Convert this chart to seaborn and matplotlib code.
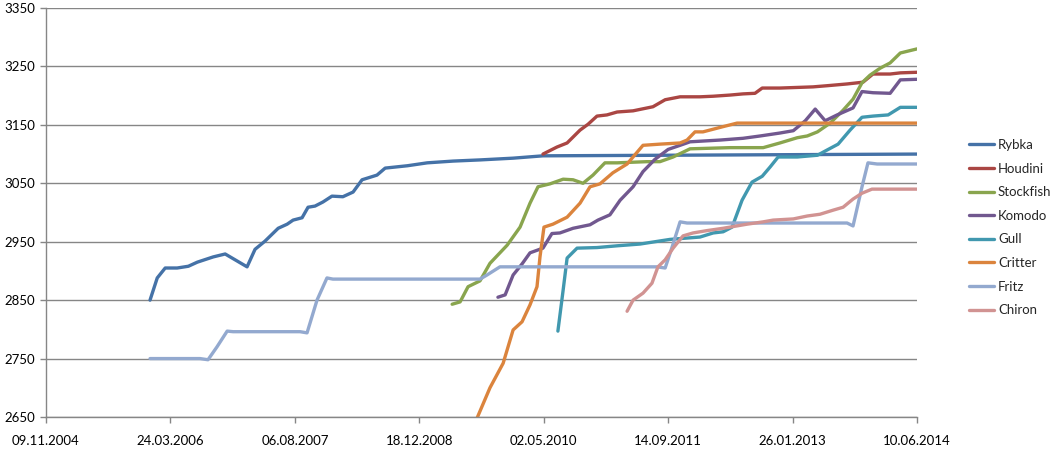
import pandas as pd
import matplotlib
matplotlib.use("Agg")
import matplotlib.pyplot as plt
import matplotlib.dates as mdates
import seaborn as sns

engines = ['Rybka', 'Houdini', 'Stockfish', 'Komodo', 'Gull', 'Critter', 'Fritz', 'Chiron']
colors = ['#4572A7', '#AA4643', '#89A54E', '#71588F', '#4198AF', '#DB843D', '#93A9CF', '#D19392']

rybka_dates = ['2006-01-01', '2006-01-30', '2006-03-03', '2006-04-20', '2006-06-04', '2006-07-10',
               '2006-09-12', '2006-10-30', '2007-01-26', '2007-02-27', '2007-04-08', '2007-05-31',
               '2007-07-06', '2007-07-30', '2007-09-04', '2007-09-28', '2007-10-26', '2007-11-27',
               '2008-01-02', '2008-02-15', '2008-03-27', '2008-05-02', '2008-07-01', '2008-08-03',
               '2008-10-31', '2009-01-19', '2009-05-03', '2009-08-19', '2009-12-30', '2010-04-29',
               '2014-06-10']
rybka_elo = [2850, 2888, 2905, 2905, 2908, 2915, 2924, 2929, 2907, 2937, 2951, 2973,
             2980, 2987, 2991, 3009, 3011, 3018, 3028, 3027, 3035, 3056, 3064, 3076,
             3080, 3085, 3088, 3090, 3093, 3097, 3100]

houdini_dates = ['2010-04-29', '2010-06-24', '2010-08-04', '2010-09-25', '2010-10-27', '2010-12-02',
                 '2011-01-11', '2011-02-21', '2011-04-26', '2011-07-15', '2011-09-02', '2011-11-01',
                 '2012-01-20', '2012-03-13', '2012-05-20', '2012-07-11', '2012-08-28', '2012-09-26',
                 '2012-12-06', '2013-04-18', '2013-06-14', '2013-09-02', '2013-11-05', '2013-12-15',
                 '2014-02-22', '2014-04-04', '2014-06-10']
houdini_elo = [3100, 3112, 3119, 3141, 3151, 3165, 3167, 3172, 3174, 3181, 3193, 3198,
               3198, 3199, 3201, 3203, 3204, 3213, 3213, 3215, 3217, 3220, 3223, 3237,
               3237, 3239, 3240]

stockfish_dates = ['2009-04-29', '2009-05-31', '2009-07-02', '2009-08-19', '2009-09-28', '2009-12-06',
                   '2010-01-27', '2010-03-08', '2010-04-09', '2010-05-27', '2010-07-19', '2010-08-28',
                   '2010-10-07', '2010-11-16', '2011-01-03', '2011-02-21', '2011-06-21', '2011-08-12',
                   '2011-10-04', '2011-12-11', '2012-05-20', '2012-09-30', '2012-12-06', '2013-02-14',
                   '2013-03-26', '2013-05-06', '2013-06-26', '2013-08-17', '2013-09-26', '2013-11-01',
                   '2013-12-03', '2014-01-13', '2014-02-22', '2014-04-04', '2014-06-10']
stockfish_elo = [2843, 2847, 2873, 2883, 2913, 2944, 2975, 3016, 3044, 3049, 3057, 3056,
                 3050, 3064, 3085, 3085, 3087, 3087, 3095, 3109, 3111, 3111, 3119, 3128,
                 3131, 3138, 3153, 3175, 3194, 3222, 3235, 3247, 3256, 3273, 3280]

komodo_dates = ['2009-10-30', '2009-11-28', '2009-12-30', '2010-02-04', '2010-03-08', '2010-04-29',
                '2010-06-04', '2010-07-06', '2010-08-28', '2010-11-04', '2010-12-06', '2011-01-23',
                '2011-03-05', '2011-04-26', '2011-06-05', '2011-07-23', '2011-09-14', '2011-11-01',
                '2011-12-11', '2012-04-10', '2012-07-11', '2012-09-18', '2012-12-06', '2013-01-29',
                '2013-03-18', '2013-04-27', '2013-06-06', '2013-07-24', '2013-09-26', '2013-11-01',
                '2013-12-15', '2014-02-22', '2014-04-04', '2014-06-10']
komodo_elo = [2855, 2859, 2893, 2912, 2931, 2939, 2964, 2965, 2973, 2979, 2987, 2996,
              3021, 3044, 3070, 3091, 3108, 3115, 3121, 3124, 3127, 3131, 3136, 3140,
              3157, 3177, 3157, 3167, 3179, 3207, 3205, 3204, 3227, 3228]

gull_dates = ['2010-06-28', '2010-07-19', '2010-08-04', '2010-09-13', '2010-12-02', '2011-02-21',
              '2011-05-24', '2011-09-22', '2012-01-20', '2012-03-13', '2012-04-22', '2012-05-28',
              '2012-07-07', '2012-08-16', '2012-09-26', '2012-10-28', '2012-11-29', '2013-02-14',
              '2013-05-06', '2013-06-14', '2013-07-28', '2013-09-14', '2013-11-01', '2013-12-15',
              '2014-02-14', '2014-04-04', '2014-06-10']
gull_elo = [2797, 2867, 2922, 2939, 2940, 2943, 2946, 2954, 2958, 2965, 2967, 2975,
            3021, 3052, 3062, 3078, 3095, 3095, 3098, 3107, 3117, 3141, 3163, 3165,
            3167, 3180, 3180]

critter_dates = ['2009-07-30', '2009-09-28', '2009-11-20', '2009-12-30', '2010-02-04', '2010-03-08',
                 '2010-04-05', '2010-04-17', '2010-05-03', '2010-06-08', '2010-08-04', '2010-09-25',
                 '2010-11-04', '2010-12-14', '2011-02-04', '2011-04-02', '2011-06-05', '2011-08-12',
                 '2011-11-01', '2011-11-29', '2011-12-31', '2012-02-01', '2012-04-22', '2012-06-17',
                 '2014-06-10']
critter_elo = [2640, 2700, 2742, 2799, 2813, 2842, 2873, 2924, 2975, 2980, 2992, 3016,
               3044, 3049, 3068, 3083, 3115, 3117, 3119, 3124, 3138, 3138, 3147, 3153,
               3153]

fritz_dates = ['2006-01-01', '2006-07-21', '2006-08-22', '2006-09-27', '2006-11-07', '2006-12-01',
               '2007-08-27', '2007-09-24', '2007-11-03', '2007-12-13', '2008-01-06', '2009-08-19',
               '2009-09-16', '2009-11-07', '2011-07-31', '2011-09-02', '2011-09-30', '2011-11-01',
               '2011-11-29', '2013-09-02', '2013-09-26', '2013-11-01', '2013-11-25', '2014-01-01',
               '2014-06-10']
fritz_elo = [2750, 2750, 2748, 2770, 2797, 2796, 2796, 2794, 2850, 2888, 2886, 2886,
             2893, 2907, 2907, 2905, 2941, 2984, 2982, 2982, 2977, 3044, 3085, 3083,
             3083]

chiron_dates = ['2011-04-02', '2011-04-26', '2011-06-05', '2011-07-11', '2011-08-04', '2011-09-02',
                '2011-10-04', '2011-11-13', '2011-12-23', '2012-02-17', '2012-04-22', '2012-07-27',
                '2012-09-30', '2012-11-09', '2013-01-29', '2013-03-26', '2013-05-16', '2013-07-08',
                '2013-08-17', '2013-09-26', '2013-11-01', '2013-12-11', '2014-06-10']
chiron_elo = [2831, 2850, 2862, 2879, 2907, 2919, 2939, 2960, 2965, 2969, 2973, 2980,
              2984, 2987, 2989, 2994, 2997, 3004, 3009, 3023, 3033, 3040, 3040]

tick_dates = ['2004-11-09', '2006-03-24', '2007-08-06', '2008-12-18', '2010-05-02',
              '2011-09-14', '2013-01-26', '2014-06-10']

series = {
    'Rybka': (rybka_dates, rybka_elo),
    'Houdini': (houdini_dates, houdini_elo),
    'Stockfish': (stockfish_dates, stockfish_elo),
    'Komodo': (komodo_dates, komodo_elo),
    'Gull': (gull_dates, gull_elo),
    'Critter': (critter_dates, critter_elo),
    'Fritz': (fritz_dates, fritz_elo),
    'Chiron': (chiron_dates, chiron_elo),
}

rows = []
for name, (dates, elo) in series.items():
    for d, e in zip(dates, elo):
        rows.append([name, pd.Timestamp(d), e])
df = pd.DataFrame(rows, columns=['engine', 'date', 'elo'])

sns.set_style('white')
plt.rcParams['font.family'] = ['Lato', 'DejaVu Sans']

fig = plt.figure(figsize=(10.53, 4.51), dpi=100)
ax = fig.add_axes([46 / 1053, 1 - 417 / 451, (917 - 46) / 1053, (417 - 8) / 451])

sns.lineplot(data=df, x='date', y='elo', hue='engine', hue_order=engines,
             palette=colors, estimator=None, sort=True, linewidth=2.4, ax=ax)

ax.set_xlim(pd.Timestamp(tick_dates[0]), pd.Timestamp(tick_dates[-1]))
ax.set_ylim(2650, 3350)
ax.set_yticks(range(2650, 3351, 100))
ax.set_xticks([pd.Timestamp(d) for d in tick_dates])
ax.xaxis.set_major_formatter(mdates.DateFormatter('%d.%m.%Y'))
ax.set_xlabel('')
ax.set_ylabel('')

ax.grid(axis='y', color='#868686', linewidth=1)
ax.grid(axis='x', visible=False)
ax.set_axisbelow(True)
for s in ['top', 'right']:
    ax.spines[s].set_visible(False)
for s in ['left', 'bottom']:
    ax.spines[s].set_color('#868686')
    ax.spines[s].set_linewidth(1)
ax.tick_params(axis='both', which='major', length=4, color='#868686', width=1,
               direction='out', labelsize=9.5, labelcolor='black')
ax.tick_params(axis='x', pad=9, bottom=True)
ax.tick_params(axis='y', pad=4, left=True)

ax.legend(loc='center left', bbox_to_anchor=(1.046, 0.463), frameon=False,
          fontsize=9.5, handlelength=1.9, handletextpad=0.3, labelspacing=0.88)

fig.savefig('out.png', dpi=100)
